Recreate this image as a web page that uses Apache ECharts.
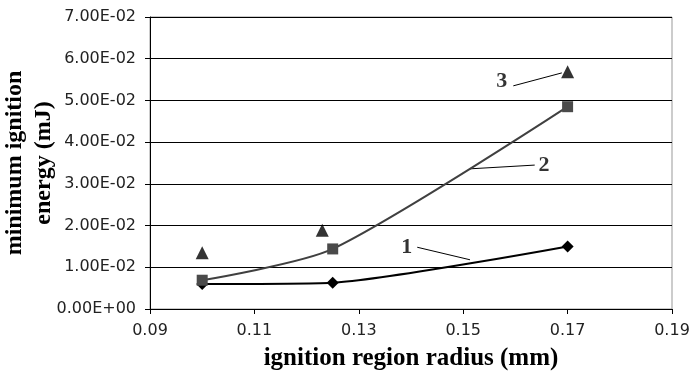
<!DOCTYPE html>
<html>
<head>
<meta charset="utf-8">
<script src="https://cdn.jsdelivr.net/npm/echarts@6/dist/echarts.min.js"></script>
<style>
	html, body { margin: 0; padding: 0; background: #fff; }
	#chart { width: 692px; height: 371px; }
</style>
</head>
<body>
<div id="chart"></div>
<script>
	// data
	var radius1 = [0.100, 0.125, 0.170];
	var energy1 = [0.0060, 0.0063, 0.0150];   // curve 1, diamonds
	var radius2 = [0.100, 0.125, 0.170];
	var energy2 = [0.0069, 0.0144, 0.0485];   // curve 2, squares
	var radius3 = [0.100, 0.123, 0.170];
	var energy3 = [0.0135, 0.0189, 0.0569];   // points 3, triangles

	// callout labels: text, label point, leader start, leader end (data units)
	var calloutText = ['1', '2', '3'];
	var calloutAt = [[0.1392, 0.0149], [0.1655, 0.0345], [0.1574, 0.0545]];
	var calloutFrom = [[0.1412, 0.0148], [0.1637, 0.0345], [0.1596, 0.0535]];
	var calloutTo = [[0.1513, 0.0118], [0.1513, 0.0336], [0.1689, 0.0566]];

	function pairs(xs, ys) {
		return xs.map(function (x, i) { return [x, ys[i]]; });
	}

	// Excel style 7.00E-02
	function sci(v) {
		if (Math.abs(v) < 1e-12) return '0.00E+00';
		var s = v.toExponential(2).split('e');
		var e = parseInt(s[1], 10);
		var sign = e < 0 ? '-' : '+';
		e = Math.abs(e);
		return s[0] + 'E' + sign + (e < 10 ? '0' + e : e);
	}

	var chart = echarts.init(document.getElementById('chart'));

	var series = [{
		name: '1',
		type: 'line',
		data: pairs(radius1, energy1),
		smooth: 0.2,
		symbol: 'diamond',
		symbolSize: 12,
		itemStyle: { color: '#000' },
		lineStyle: { color: '#000', width: 2 },
		z: 3
	}, {
		name: '2',
		type: 'line',
		data: pairs(radius2, energy2),
		smooth: 0.25,
		symbol: 'rect',
		symbolSize: 11,
		itemStyle: { color: '#4a4a4a' },
		lineStyle: { color: '#404040', width: 2 },
		z: 4
	}, {
		name: '3',
		type: 'scatter',
		data: pairs(radius3, energy3),
		symbol: 'triangle',
		symbolSize: 13,
		itemStyle: { color: '#000' },
		z: 4
	}];

	// leader lines
	calloutText.forEach(function (t, i) {
		series.push({
			type: 'line',
			data: [calloutFrom[i], calloutTo[i]],
			symbol: 'none',
			silent: true,
			lineStyle: { color: '#000', width: 1 },
			z: 2
		});
	});

	// callout numbers
	series.push({
		type: 'scatter',
		data: calloutAt.map(function (p, i) { return { value: p, name: calloutText[i] }; }),
		symbolSize: 0,
		silent: true,
		label: {
			show: true,
			position: 'inside',
			formatter: '{b}',
			fontFamily: '"Liberation Serif", "Times New Roman", serif',
			fontWeight: 'bold',
			fontSize: 22,
			color: '#000'
		},
		z: 5
	});

	chart.setOption({
		animation: false,
		backgroundColor: '#fff',
		grid: {
			left: 150,
			right: 20,
			top: 17,
			bottom: 62,
			containLabel: false,
			outerBoundsMode: 'none',
			show: true,
			borderColor: '#999',
			borderWidth: 1
		},
		xAxis: {
			type: 'value',
			min: 0.09,
			max: 0.19,
			interval: 0.02,
			name: 'ignition region radius (mm)',
			nameLocation: 'middle',
			nameGap: 37,
			nameMoveOverlap: false,
			nameTextStyle: {
				fontFamily: '"Liberation Serif", "Times New Roman", serif',
				fontWeight: 'bold',
				fontSize: 25,
				color: '#000'
			},
			axisLine: { show: true, onZero: false, lineStyle: { color: '#000', width: 1 } },
			axisTick: { show: true, length: 5, lineStyle: { color: '#000' } },
			splitLine: { show: false },
			axisLabel: {
				margin: 14,
				fontFamily: '"DejaVu Sans", sans-serif',
				fontSize: 16,
				color: '#222',
				formatter: function (v) { return v.toFixed(2); }
			}
		},
		yAxis: {
			type: 'value',
			min: 0,
			max: 0.07,
			interval: 0.01,
			name: 'minimum ignition\nenergy (mJ)',
			nameLocation: 'middle',
			nameRotate: 90,
			nameGap: 92,
			nameMoveOverlap: false,
			nameTextStyle: {
				fontFamily: '"Liberation Serif", "Times New Roman", serif',
				fontWeight: 'bold',
				fontSize: 24,
				lineHeight: 29,
				color: '#000'
			},
			axisLine: { show: true, lineStyle: { color: '#000', width: 1 } },
			axisTick: { show: true, length: 5, lineStyle: { color: '#000' } },
			splitLine: { show: true, lineStyle: { color: '#000', width: 1 } },
			axisLabel: {
				margin: 14,
				fontFamily: '"DejaVu Sans", sans-serif',
				fontSize: 16,
				color: '#222',
				formatter: sci
			}
		},
		series: series
	});
</script>
</body>
</html>
